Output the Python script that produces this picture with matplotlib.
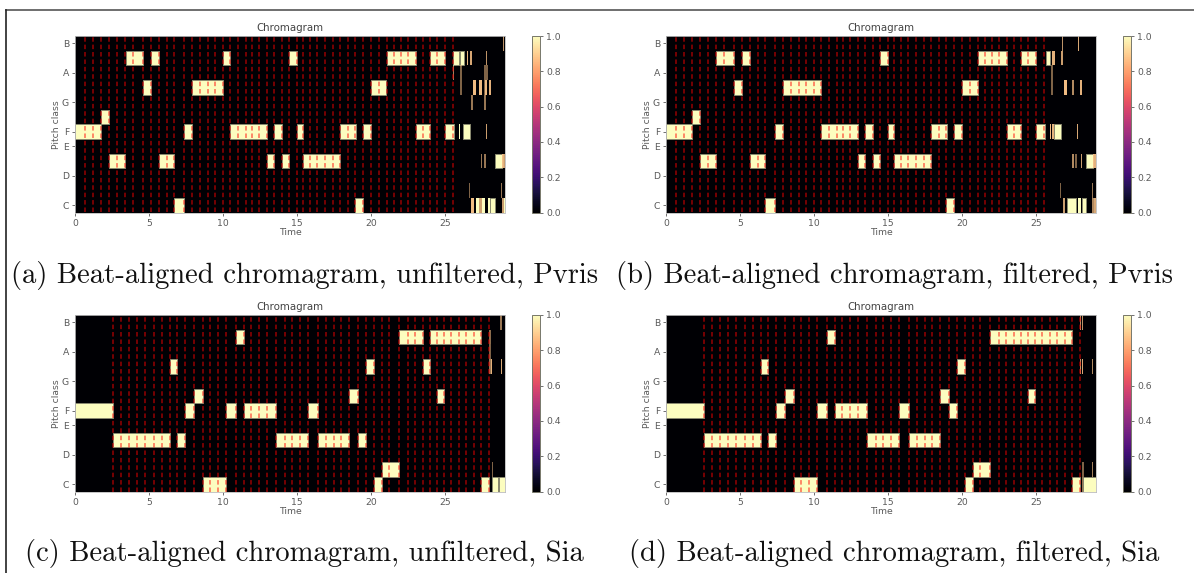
import numpy as np
import matplotlib
matplotlib.use("Agg")
import matplotlib.pyplot as plt
from matplotlib.cm import ScalarMappable
from matplotlib.colors import Normalize
from matplotlib.lines import Line2D

PITCH_TICKS = [0, 2, 4, 5, 7, 9, 11]
PITCH_LABELS = ["C", "D", "E", "F", "G", "A", "B"]
X_TICKS = [0, 5, 10, 15, 20, 25]
CBAR_TICKS = [0.0, 0.2, 0.4, 0.6, 0.8, 1.0]
TITLE = "Chromagram"
CAPTIONS = ["(a) Beat-aligned chromagram, unfiltered, Pvris",
            "(b) Beat-aligned chromagram, filtered, Pvris",
            "(c) Beat-aligned chromagram, unfiltered, Sia",
            "(d) Beat-aligned chromagram, filtered, Sia"]

BEATS_PVRIS = [0.65, 1.22, 1.74, 2.28, 2.84, 3.38, 3.92, 4.55, 5.12, 5.66, 6.18, 6.69, 7.32, 7.87,
               8.43, 8.95, 9.44, 9.96, 10.48, 11.02, 11.52, 11.97, 12.44, 12.94, 13.43, 13.95,
               14.47, 14.97, 15.42, 15.87, 16.37, 16.88, 17.40, 17.92, 18.41, 18.91, 19.43, 20.0,
               20.53, 21.05, 21.55, 22.04, 22.52, 23.01, 23.49, 23.98, 24.48, 25.0, 25.52]
BEATS_SIA = [2.57, 3.11, 3.63, 4.15, 4.69, 5.32, 5.84, 6.38, 6.9, 7.41, 8.02, 8.61, 9.13, 9.65,
             10.19, 10.84, 11.38, 11.9, 12.44, 12.96, 13.55, 14.18, 14.67, 15.21, 15.71, 16.41,
             16.95, 17.47, 17.98, 18.48, 19.09, 19.67, 20.19, 20.71, 21.23, 21.9, 22.47, 22.99,
             23.48, 24.0, 24.45, 24.93, 25.42, 25.92, 26.41, 26.93, 27.43, 27.99]

# pitch index -> (start, end, value)
PVRIS_RAW = {
    11: [(28.9, 28.98, .75)],
    10: [(3.4, 4.55, 1), (5.12, 5.66, 1), (9.96, 10.48, 1), (14.47, 14.97, 1), (21.05, 23.01, 1),
         (23.98, 25.0, 1), (25.56, 25.97, 1), (26.01, 26.28, 1), (26.48, 26.57, .9), (26.66, 26.82, .85),
         (27.77, 27.83, .75)],
    9: [(25.55, 25.63, .65), (26.01, 26.12, .5), (27.63, 27.88, .5)],
    8: [(4.6, 5.12, 1), (7.92, 9.96, 1), (20.0, 21.0, 1), (26.01, 26.12, .5), (26.89, 27.07, .95),
        (27.29, 27.5, .95), (27.63, 27.7, .5), (27.7, 27.83, .95), (27.95, 28.1, .9)],
    7: [(26.77, 26.87, .6), (27.63, 27.74, .6)],
    6: [(1.74, 2.28, 1)],
    5: [(0.0, 1.74, 1), (7.32, 7.87, 1), (10.48, 12.94, 1), (13.43, 13.95, 1), (14.97, 15.42, 1),
        (17.92, 18.95, 1), (19.43, 20.0, 1), (23.01, 23.98, 1), (25.0, 25.63, 1), (25.96, 26.03, 1),
        (26.19, 26.66, 1), (27.77, 27.81, .8)],
    3: [(2.28, 3.38, 1), (5.66, 6.69, 1), (12.94, 13.43, 1), (13.95, 14.47, 1), (15.42, 17.92, 1),
        (27.43, 27.52, .6), (27.63, 27.74, .6), (28.37, 28.82, 1), (28.82, 28.98, .9), (28.98, 29.05, .8)],
    1: [(26.62, 26.71, .5), (28.78, 28.87, .6)],
    0: [(6.69, 7.32, 1), (18.91, 19.43, 1), (26.77, 26.95, .95), (27.07, 27.3, 1), (27.3, 27.5, .82),
        (27.5, 27.7, 1), (27.88, 28.01, 1), (28.06, 28.37, 1), (28.82, 28.98, .8), (28.98, 29.05, 1)],
}
PVRIS_FILT = {
    11: [(26.75, 26.82, .75), (27.83, 27.9, .85)],
    10: [(3.38, 4.58, 1), (5.12, 5.66, 1), (14.47, 14.97, 1), (21.05, 23.01, 1), (23.98, 25.0, 1),
         (25.67, 25.94, 1), (26.08, 26.28, .9), (26.68, 26.82, .8)],
    9: [(26.03, 26.12, .5)],
    8: [(4.6, 5.12, 1), (7.92, 10.48, 1), (20.0, 21.05, 1), (26.03, 26.12, .5), (26.91, 27.09, .95),
        (27.41, 27.54, .7), (27.97, 28.1, .9)],
    6: [(1.74, 2.28, 1)],
    5: [(0.0, 1.74, 1), (7.32, 7.87, 1), (10.48, 12.94, 1), (13.43, 13.95, 1), (14.97, 15.42, 1),
        (17.92, 18.95, 1), (19.43, 20.0, 1), (23.01, 23.98, 1), (25.0, 25.6, 1), (25.94, 26.03, .95),
        (26.1, 26.19, .9), (26.19, 26.66, 1), (27.74, 27.83, .85)],
    3: [(2.28, 3.38, 1), (5.66, 6.69, 1), (12.94, 13.43, 1), (13.95, 14.47, 1), (15.42, 17.92, 1),
        (27.43, 27.54, .7), (27.63, 27.77, .5), (28.01, 28.1, .8), (28.37, 28.82, 1), (28.82, 29.05, .9)],
    1: [(26.64, 26.71, .5), (28.8, 28.87, .6)],
    0: [(6.69, 7.32, 1), (18.91, 19.43, 1), (26.8, 26.95, .8), (27.07, 27.7, 1), (27.83, 28.06, 1),
        (28.1, 28.37, 1), (28.8, 28.89, .7), (28.89, 29.05, .85)],
}
SIA_RAW = {
    11: [(28.74, 28.85, .6)],
    10: [(10.84, 11.38, 1), (21.9, 23.48, 1), (24.0, 27.43, 1), (27.99, 28.08, .55)],
    9: [(27.99, 28.08, .5)],
    8: [(6.38, 6.9, 1), (19.67, 20.19, 1), (23.48, 24.0, 1), (27.99, 28.08, .6), (28.08, 28.17, .9),
        (28.76, 28.87, .85)],
    6: [(8.02, 8.61, 1), (18.48, 19.09, 1), (24.45, 24.93, 1)],
    5: [(0.0, 2.57, 1), (7.41, 8.02, 1), (10.19, 10.84, 1), (11.38, 13.55, 1), (15.71, 16.41, 1)],
    3: [(2.57, 6.38, 1), (6.9, 7.41, 1), (13.55, 15.71, 1), (16.41, 18.48, 1), (19.09, 19.67, 1)],
    1: [(20.71, 21.9, 1), (28.15, 28.24, .5)],
    0: [(8.61, 10.19, 1), (20.19, 20.71, 1), (27.43, 27.99, 1), (28.15, 28.58, 1), (28.65, 29.05, 1)],
}
SIA_FILT = {
    11: [(27.97, 28.04, .75), (28.08, 28.15, .75)],
    10: [(10.84, 11.38, 1), (21.9, 27.43, 1)],
    8: [(6.38, 6.9, 1), (19.67, 20.19, 1), (27.97, 28.04, .75), (28.08, 28.15, .85), (28.78, 28.87, .7)],
    6: [(8.02, 8.61, 1), (18.48, 19.09, 1), (24.45, 24.93, 1)],
    5: [(0.0, 2.57, 1), (7.41, 8.02, 1), (10.19, 10.84, 1), (11.38, 13.55, 1), (15.71, 16.41, 1),
        (19.09, 19.67, 1)],
    3: [(2.57, 6.38, 1), (6.9, 7.41, 1), (13.55, 15.71, 1), (16.41, 18.48, 1)],
    1: [(20.71, 21.9, 1), (28.13, 28.22, .5), (28.78, 28.87, .65)],
    0: [(8.61, 10.19, 1), (20.19, 20.71, 1), (27.43, 27.99, 1), (28.08, 28.15, .6), (28.2, 29.05, 1)],
}
XMAX = 29.05
W, H = 1194, 573
TICK_COL = "#5a5a5a"
CMAP = plt.get_cmap("magma")
NORM = Normalize(0, 1)


def axbox(l, t, r, b):
    return [l / W, 1 - b / H, (r - l) / W, (b - t) / H]


def panel(box, cbox, segments, beats):
    ax = fig.add_axes(axbox(*box))
    ax.set_facecolor(CMAP(0.0))
    for r, row in segments.items():
        for s, e, v in row:
            if v >= 0.99:
                wide = (e - s) > 0.25
                ax.barh(r, e - s, left=s, height=1, color=CMAP(1.0),
                        edgecolor="#8a8a70" if wide else "none", linewidth=0.7 if wide else 0)
            else:
                # thin, partly filled frames read as a dimmed tan stripe once blurred
                ax.barh(r, e - s, left=s, height=1, color=CMAP(0.88), alpha=v, linewidth=0)
    ax.vlines(beats, -0.5, 11.5, colors="r", alpha=0.5, linestyles=(0, (2.5, 1.6)), linewidth=1.3)
    ax.set_xlim(0, XMAX)
    ax.set_ylim(-0.5, 11.5)
    ax.set_xticks(X_TICKS)
    ax.set_yticks(PITCH_TICKS, PITCH_LABELS)
    ax.tick_params(labelsize=6.7, length=2.4, width=0.6, color=TICK_COL, labelcolor=TICK_COL, pad=2.2)
    ax.set_xlabel("Time", fontsize=6.7, color=TICK_COL, labelpad=0.0)
    ax.set_ylabel("Pitch class", fontsize=6.7, color=TICK_COL, labelpad=0.4)
    ax.set_title(TITLE, fontsize=7.4, color="#444444", pad=3.5)
    for s in ax.spines.values():
        s.set_color("#bbbbbb")
        s.set_linewidth(0.6)
    cax = fig.add_axes(axbox(*cbox))
    cb = fig.colorbar(ScalarMappable(norm=NORM, cmap=CMAP), cax=cax)
    cb.set_ticks(CBAR_TICKS)
    cb.ax.tick_params(labelsize=6.7, length=2.4, width=0.6, color=TICK_COL, labelcolor=TICK_COL, pad=2)
    cb.outline.set_edgecolor("#77776a")
    cb.outline.set_linewidth(0.7)


fig = plt.figure(figsize=(W / 100, H / 100), dpi=100, facecolor="white")

panel((75.3, 36, 505, 212.5), (532, 36, 540, 212.5), PVRIS_RAW, BEATS_PVRIS)
panel((666.3, 36, 1096, 212.5), (1123, 36, 1131, 212.5), PVRIS_FILT, BEATS_PVRIS)
panel((75.3, 315, 505, 491.5), (532, 315, 540, 491.5), SIA_RAW, BEATS_SIA)
panel((666.3, 315, 1096, 491.5), (1123, 315, 1131, 491.5), SIA_FILT, BEATS_SIA)

fig.add_artist(Line2D([6 / W, 1], [1 - 9.5 / H] * 2, color="#555555", lw=1.2))
fig.add_artist(Line2D([6.3 / W] * 2, [0, 1 - 9.5 / H], color="#222222", lw=1.2))

for cap, x, y in zip(CAPTIONS, [304.5, 895, 304, 894.5], [275, 275, 554, 554]):
    fig.text(x / W, 1 - y / H, cap, family=["cmr10", "Liberation Serif"], fontsize=20.6,
             ha="center", va="center", color="#111111")

fig.savefig("out.png", dpi=100)
